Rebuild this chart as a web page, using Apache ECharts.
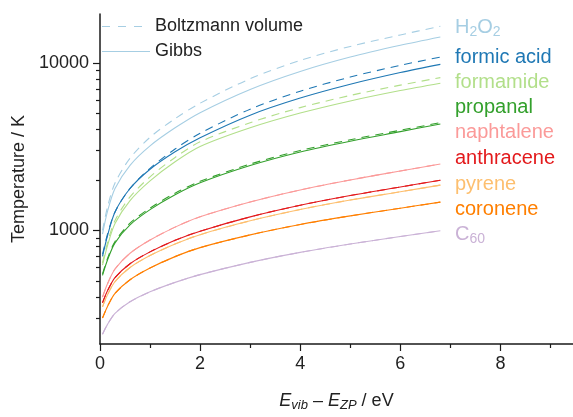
<!DOCTYPE html>
<html><head><meta charset="utf-8">
<script src="https://cdn.jsdelivr.net/npm/echarts@6/dist/echarts.min.js"></script>
<style>html,body{margin:0;padding:0;background:#fff}#c{width:573px;height:417px}</style>
</head><body><div id="c"></div>
<script>
// Energy grid (eV)
const xs = [0.05, 0.15, 0.3, 0.6, 1, 1.5, 2, 3, 4, 5, 6, 6.8];
// Temperatures (K), Gibbs (solid) and Boltzmann volume (dashed)
const h2o2Gibbs   = [950, 1300, 1780, 2450, 3200, 4100, 5050, 6950, 8900, 10850, 12750, 14290];
const h2o2Boltz   = [1000, 1380, 1920, 2700, 3600, 4650, 5750, 8050, 10350, 12550, 14700, 16560];
const formicGibbs = [700, 930, 1290, 1780, 2320, 2950, 3580, 4880, 6170, 7460, 8760, 9810];
const formicBoltz = [720, 949, 1291, 1782, 2350, 3063, 3800, 5300, 6780, 8240, 9680, 10840];
const formamGibbs = [620, 812, 1099, 1507, 1977, 2570, 3170, 4100, 5020, 5930, 6840, 7570];
const formamBoltz = [640, 844, 1148, 1585, 2090, 2729, 3380, 4400, 5410, 6400, 7370, 8175];
const propGibbs   = [540, 666, 843, 1079, 1331, 1633, 1925, 2440, 2940, 3410, 3890, 4324];
const propBoltz   = [550, 680, 860, 1105, 1360, 1670, 1965, 2490, 3000, 3480, 3965, 4400];
const naphGibbs   = [400, 481, 589, 731, 877, 1047, 1207, 1479, 1746, 2003, 2265, 2493];
const anthGibbs   = [370, 436, 523, 633, 745, 873, 990, 1205, 1414, 1616, 1817, 1996];
const pyrGibbs    = [350, 413, 495, 601, 708, 830, 944, 1142, 1334, 1520, 1702, 1866];
const corGibbs    = [300, 352, 421, 508, 597, 698, 790, 941, 1086, 1222, 1358, 1476];
const c60Gibbs    = [240, 275, 320, 375, 430, 490, 545, 645, 740, 830, 920, 996];

const molecules = [
  {name:'H2O2', color:'#a6cee3', gibbs:h2o2Gibbs, boltz:h2o2Boltz},
  {name:'formic acid', color:'#1f78b4', gibbs:formicGibbs, boltz:formicBoltz},
  {name:'formamide', color:'#b2df8a', gibbs:formamGibbs, boltz:formamBoltz},
  {name:'propanal', color:'#33a02c', gibbs:propGibbs, boltz:propBoltz},
  {name:'naphtalene', color:'#fb9a99', gibbs:naphGibbs, boltz:naphGibbs},
  {name:'anthracene', color:'#e31a1c', gibbs:anthGibbs, boltz:anthGibbs},
  {name:'pyrene', color:'#fdbf6f', gibbs:pyrGibbs, boltz:pyrGibbs},
  {name:'coronene', color:'#ff7f00', gibbs:corGibbs, boltz:corGibbs},
  {name:'C60', color:'#cab2d6', gibbs:c60Gibbs, boltz:c60Gibbs}
];
const labelBaselines = [35, 65, 90, 115, 140, 166, 192, 217, 242];
const yMajor = [1000, 10000];
const yMinor = [300,400,500,600,700,800,900,2000,3000,4000,5000,6000,7000,8000,9000];
const xMajor = [0, 2, 4, 6, 8];
const xMinor = [1, 3, 5, 7, 9];

const FONT = 'Liberation Sans, Arial, sans-serif';
const DASH = [8,6];
const pairs = arr => xs.map((x,i)=>[x, arr[i]]);
const series = [];
molecules.forEach((m,k)=>{
  series.push({type:'line', name: m.name+' (Boltzmann volume)', data:pairs(m.boltz), showSymbol:false, symbol:'none',
    smooth:0.3, lineStyle:{color:m.color, width:1.1, type:DASH}, itemStyle:{color:m.color}, z:2});
  series.push({type:'line', name: m.name+' (Gibbs)', data:pairs(m.gibbs), showSymbol:false, symbol:'none',
    smooth:0.3, lineStyle:{color:m.color, width:1.1}, itemStyle:{color:m.color}, z:3});
});

const graphics = molecules.map((m,i)=>{
  let text = m.name;
  if (m.name==='H2O2'){ text='{n|H}{s|2}{n|O}{s|2}'; }
  if (m.name==='C60'){ text='{n|C}{s|60}'; }
  const rich = {n:{fontSize:20, fill:m.color, fontFamily:FONT},
                s:{fontSize:14, fill:m.color, fontFamily:FONT, padding:[10,0,0,0]}};
  return {type:'text', left:455, top:labelBaselines[i]-18, z:10,
    style:{text:text, fill:m.color, font:'20px '+FONT, rich:rich}};
});
// legend (line samples + text)
graphics.push(
  {type:'line', shape:{x1:102, y1:26.5, x2:146, y2:26.5}, style:{stroke:'#a6cee3', lineWidth:1.1, lineDash:[8,8]}, z:10},
  {type:'line', shape:{x1:102, y1:51.5, x2:150, y2:51.5}, style:{stroke:'#a6cee3', lineWidth:1.1}, z:10},
  {type:'text', left:155, top:17, style:{text:'Boltzmann volume', fill:'#222', font:'18px '+FONT}, z:10},
  {type:'text', left:155, top:42, style:{text:'Gibbs', fill:'#222', font:'18px '+FONT}, z:10}
);

const axisLineStyle = {color:'#1a1a1a', width:1.5};
const tickStyle = {color:'#1a1a1a', width:1.2};
const chart = echarts.init(document.getElementById('c'), null, {renderer:'canvas'});
chart.setOption({
  animation:false,
  backgroundColor:'#fff',
  grid:{left:100, right:0, top:14, bottom:65, containLabel:false},
  xAxis:[{type:'value', min:0, max:9.45, position:'bottom',
    axisLine:{show:true, lineStyle:axisLineStyle},
    axisTick:{show:true, inside:false, length:7, lineStyle:tickStyle, customValues:xMajor},
    axisLabel:{show:true, customValues:xMajor, fontSize:18, color:'#222', fontFamily:FONT, margin:11},
    splitLine:{show:false},
    name:'{i|E}{s|vib}{n| – }{i|E}{s|ZP}{n| / eV}', nameLocation:'middle', nameGap:46,
    nameTextStyle:{rich:{i:{fontSize:18, fontStyle:'italic', color:'#222', fontFamily:FONT},
      n:{fontSize:18, color:'#222', fontFamily:FONT},
      s:{fontSize:13, fontStyle:'italic', color:'#222', fontFamily:FONT, padding:[9,0,0,0]}}}},
   {type:'value', min:0, max:9.45, position:'bottom',
    axisLine:{show:false}, axisTick:{show:true, inside:false, length:4, lineStyle:tickStyle, customValues:xMinor},
    axisLabel:{show:false}, splitLine:{show:false}}],
  yAxis:[{type:'log', logBase:10, min:210, max:19600, position:'left',
    axisLine:{show:true, lineStyle:axisLineStyle},
    axisTick:{show:true, inside:false, length:7, lineStyle:tickStyle, customValues:yMajor},
    axisLabel:{show:true, customValues:yMajor, fontSize:18, color:'#222', fontFamily:FONT, margin:11,
      formatter: v => String(Math.round(v))},
    splitLine:{show:false},
    name:'Temperature / K', nameLocation:'middle', nameGap:66,
    nameTextStyle:{fontSize:18, color:'#222', fontFamily:FONT}},
   {type:'log', logBase:10, min:210, max:19600, position:'left',
    axisLine:{show:false}, axisTick:{show:true, inside:false, length:4, lineStyle:tickStyle, customValues:yMinor},
    axisLabel:{show:false}, splitLine:{show:false}}],
  series:series,
  graphic:graphics
});
</script></body></html>
